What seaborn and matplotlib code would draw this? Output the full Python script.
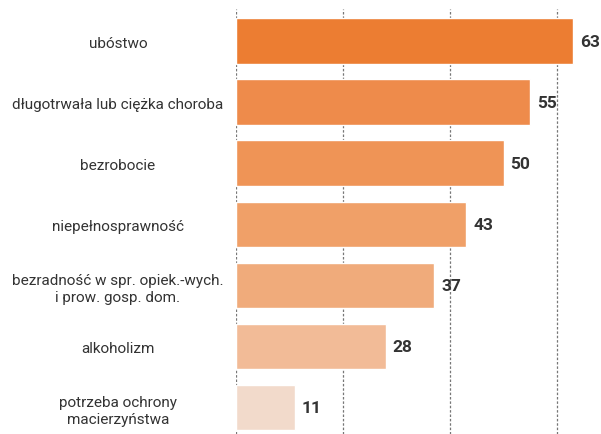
import numpy as np
import pandas as pd
import seaborn as sns
from matplotlib import pyplot as plt

# Data
categories = ["ubóstwo",
              "długotrwała lub ciężka choroba",
              "bezrobocie",
              "niepełnosprawność",
              "bezradność w spr. opiek.-wych.\ni prow. gosp. dom.",
              "alkoholizm",
              "potrzeba ochrony\nmacierzyństwa"]
values = [63, 55, 50, 43, 37, 28, 11]
bar_colors = ["#EC7D32", "#EE8B4B", "#EF9456", "#F0A068",
              "#F0AB7B", "#F2BB97", "#F2DACB"]
grid_ticks = [0, 20, 40, 60]


def main():
    sns.set_style("white")
    plt.rcParams["font.family"] = ["Roboto", "DejaVu Sans"]

    data = pd.DataFrame({"category": categories, "value": values})

    fig = plt.figure(figsize=(6.01, 4.35), dpi=100)
    # axes placed in pixels: left 236, top 10, right 592, bottom 435
    ax = fig.add_axes([236 / 601, 0, (592 - 236) / 601, (435 - 10) / 435])

    sns.barplot(data=data, x="value", y="category", hue="category",
                palette=bar_colors, legend=False, width=0.74,
                saturation=1, ax=ax)

    ax.set_xlim(0, 66.5)
    ax.set_ylim(6.44, -0.525)
    ax.set_xticks(grid_ticks)
    ax.set_xticklabels([])
    ax.xaxis.grid(True, linestyle=(0, (2, 1.5)), color="#777777", linewidth=0.9)
    ax.set_axisbelow(True)
    for side in ["top", "right", "bottom", "left"]:
        ax.spines[side].set_visible(False)
    ax.set_xlabel("")
    ax.set_ylabel("")
    ax.tick_params(axis="x", length=0)
    ax.tick_params(axis="y", length=0, pad=85)
    for lab in ax.get_yticklabels():
        lab.set_horizontalalignment("center")
        lab.set_fontsize(11)
        lab.set_color("#333333")
        lab.set_linespacing(1.3)

    for i, v in enumerate(values):
        ax.annotate(str(v), xy=(v, i), xytext=(5, 0), textcoords="offset points",
                    va="center", ha="left", fontsize=12.5, fontweight="bold",
                    color="#333333")

    fig.savefig("out.png", dpi=100)
    plt.close(fig)


main()
